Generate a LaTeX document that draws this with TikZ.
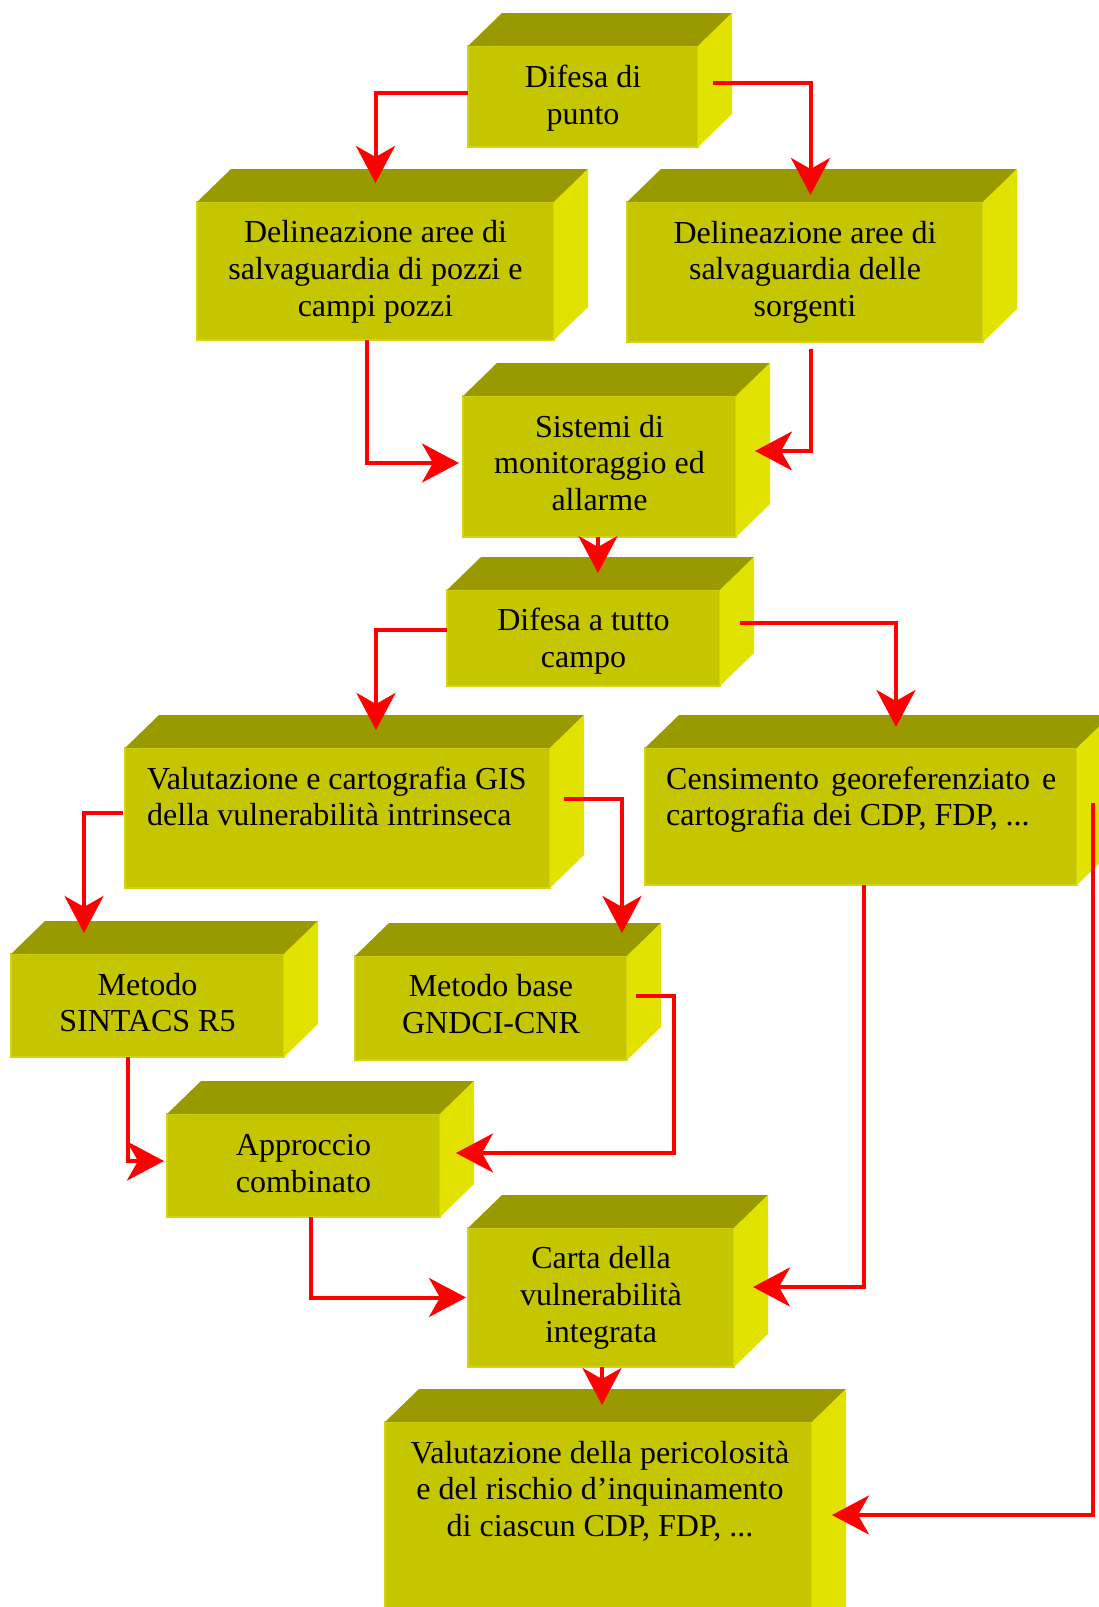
\documentclass[tikz,border=0pt]{standalone}
\usepackage{fontspec}
\setmainfont{Liberation Serif}
\usetikzlibrary{arrows.meta}
\definecolor{frontc}{RGB}{198,198,0}
\definecolor{topc}{RGB}{153,153,0}
\definecolor{sidec}{RGB}{226,226,0}
\definecolor{rimc}{RGB}{212,212,20}
\definecolor{linkred}{RGB}{255,0,0}
\newcommand\fstrut{\rule{0pt}{28pt}}
\tikzset{
  frontface/.style={fill=frontc, draw=rimc, line width=1.2pt, inner sep=0pt, outer sep=0pt},
  boxtext/.style={font=\fontsize{32}{36.7}\selectfont, inner sep=0pt, text=black, anchor=north, align=center},
  lefttext/.style={boxtext, anchor=north west, align=left},
  conn/.style={draw=linkred, line width=4pt, -{Stealth[length=37pt,width=39pt,inset=11pt]}},
}
\newcommand\tdbox[5]{%
  \node[frontface, minimum width={(#4-#2)*1pt}, minimum height={(#5-#3)*1pt}] (#1) at ({(#2+#4)/2},{(#3+#5)/2}) {};
  \fill[topc] (#1.north west) -- ++(34pt,33pt) -- ([shift={(34pt,33pt)}]#1.north east) -- (#1.north east) -- cycle;
  \fill[sidec] (#1.north east) -- ++(34pt,33pt) -- ([shift={(34pt,33pt)}]#1.south east) -- (#1.south east) -- cycle;
}
\begin{document}
\begin{tikzpicture}[x=1pt,y=-1pt]
\useasboundingbox (0,0) rectangle (1099,1607);
\clip (0,0) rectangle (1099,1607);
% boxes
\tdbox{b1}{468}{46}{698}{147}
\tdbox{b2}{197}{202}{554}{340}
\tdbox{b3}{627}{202}{983}{342}
\tdbox{b4}{463}{396}{736}{537}
\tdbox{b5}{447}{590}{720}{686}
\tdbox{b6}{125}{748}{550}{888}
\tdbox{b7}{645}{748}{1077}{885}
\tdbox{b8}{11}{954}{284}{1057}
\tdbox{b9}{355}{956}{627}{1060}
\tdbox{b10}{167}{1114}{440}{1217}
\tdbox{b11}{468}{1228}{734}{1367}
\tdbox{b12}{385}{1422}{812}{1650}
% texts
\node[boxtext] (t1) at ([yshift=-13.3pt]b1.north) {\fstrut Difesa di\\punto};
\node[boxtext] (t2) at ([yshift=-12.7pt]b2.north) {\fstrut Delineazione aree di\\salvaguardia di pozzi e\\campi pozzi};
\node[boxtext] (t3) at ([yshift=-13pt]b3.north) {\fstrut Delineazione aree di\\salvaguardia delle\\sorgenti};
\node[boxtext] (t4) at ([yshift=-13pt]b4.north) {\fstrut Sistemi di\\monitoraggio ed\\allarme};
\node[boxtext] (t5) at ([yshift=-12.7pt]b5.north) {\fstrut Difesa a tutto\\campo};
\node[lefttext] (t6) at ([shift={(22pt,-13pt)}]b6.north west) {\fstrut Valutazione e cartografia GIS\\della vulnerabilità intrinseca};
\node[lefttext] (t7) at ([shift={(21pt,-13pt)}]b7.north west) {\fstrut\hbox to 390pt{Censimento\hfill georeferenziato\hfill e}\\cartografia dei CDP, FDP, ...};
\node[boxtext] (t8) at ([yshift=-13pt]b8.north) {\fstrut Metodo\\SINTACS R5};
\node[boxtext] (t9) at ([yshift=-12.7pt]b9.north) {\fstrut Metodo base\\GNDCI-CNR};
\node[boxtext] (t10) at ([yshift=-13.3pt]b10.north) {\fstrut Approccio\\combinato};
\node[boxtext] (t11) at ([yshift=-12.7pt]b11.north) {\fstrut Carta della\\vulnerabilità\\integrata};
\node[boxtext] (t12) at ([shift={(1.5pt,-13pt)}]b12.north) {\fstrut Valutazione della pericolosità\\e del rischio d’inquinamento\\di ciascun CDP, FDP, ...};
% connectors
\draw[conn] ([yshift=3.5pt]b1.west) -| ([yshift=19pt]b2.north);
\draw[conn] ([shift={(15pt,13.5pt)}]b1.east) -| ([shift={(5.5pt,7pt)}]b3.north);
\draw[conn] ([xshift=-8.5pt]b2.south) |- ([shift={(-4pt,3.5pt)}]b4.west);
\draw[conn] ([shift={(5.5pt,-7pt)}]b3.south) |- ([shift={(19pt,15.5pt)}]b4.east);
\draw[conn] ([xshift=-1.5pt]b4.south) -- ([shift={(14.5pt,17pt)}]b5.north);
\draw[conn] ([yshift=8pt]b5.west) -| ([shift={(38.5pt,18pt)}]b6.north);
\draw[conn] ([shift={(20pt,15pt)}]b5.east) -| ([shift={(35pt,21pt)}]b7.north);
\draw[conn] ([shift={(-2pt,5pt)}]b6.west) -| ([shift={(-63.5pt,21pt)}]b8.north);
\draw[conn] ([shift={(14pt,19pt)}]b6.east) -| ([shift={(131pt,23pt)}]b9.north);
\draw[conn] ([xshift=3pt]b7.south) |- ([shift={(19pt,10.5pt)}]b11.east);
\draw[conn] ([shift={(16pt,13.5pt)}]b7.east) |- ([shift={(20pt,21pt)}]b12.east);
\draw[conn] ([xshift=-19.5pt]b8.south) |- ([shift={(-3pt,4.5pt)}]b10.west);
\draw[conn] ([shift={(9pt,12pt)}]b9.east) -- ++(38pt,0pt) |- ([shift={(16pt,12.5pt)}]b10.east);
\draw[conn] ([xshift=7.5pt]b10.south) |- ([xshift=-2pt]b11.west);
\draw[conn] ([xshift=1pt]b11.south) -- ([shift={(3.5pt,17pt)}]b12.north);
\end{tikzpicture}
\end{document}
